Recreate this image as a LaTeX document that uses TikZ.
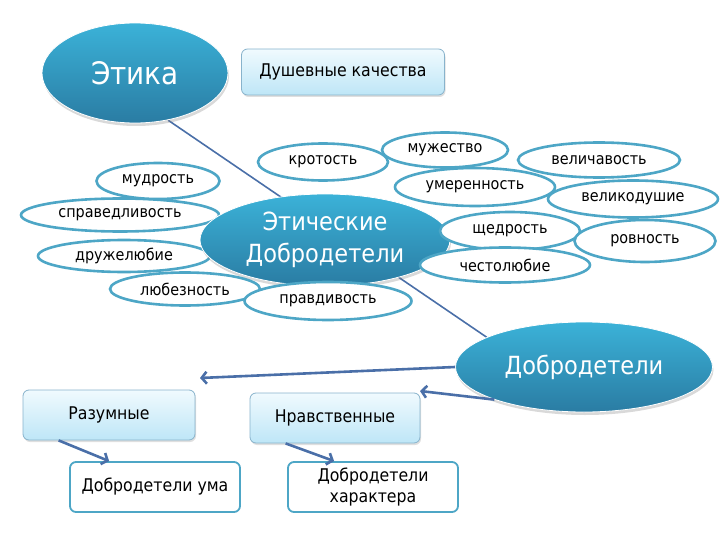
\documentclass[tikz,border=0pt]{standalone}
\usepackage{fontspec}
\setmainfont{DejaVu Sans Condensed}
\usetikzlibrary{shapes.geometric,shadows,arrows.meta,backgrounds}

\definecolor{tealtop}{HTML}{3BB2D8}
\definecolor{tealbot}{HTML}{2A7CA3}
\definecolor{rimcol}{HTML}{4DA6C6}
\definecolor{linkcol}{HTML}{4A6FA8}
\definecolor{boxtop}{HTML}{F0FAFE}
\definecolor{boxbot}{HTML}{BEE6F7}
\definecolor{boxrim}{HTML}{88B3CC}

\begin{document}
\begin{tikzpicture}[x=1pt, y=-1pt, >=stealth,
    bigoval/.style={ellipse, inner sep=0pt, top color=tealtop, bottom color=tealbot,
        draw=white, line width=0.8pt, text=white, align=center,
        drop shadow={opacity=0.3, shadow xshift=1pt, shadow yshift=-3pt}},
    virtue/.style={ellipse, inner sep=0pt, draw=rimcol, line width=2.6pt, fill=white,
        font=\fontsize{16}{18}\selectfont},
    qualbox/.style={rectangle, rounded corners=6pt, draw=boxrim, line width=0.8pt,
        top color=boxtop, bottom color=boxbot, font=\fontsize{17.5}{20}\selectfont,
        drop shadow={opacity=0.25, shadow xshift=1pt, shadow yshift=-2pt}},
    kindbox/.style={rectangle, rounded corners=6pt, draw=rimcol, line width=1.8pt,
        fill=white, align=center, font=\fontsize{17.5}{21}\selectfont,
        minimum width=170pt, minimum height=50pt},
    link/.style={draw=linkcol, line width=2.6pt, -{Straight Barb[length=5pt,width=12pt]}}]
    \useasboundingbox (0,0) rectangle (720,540);

    % Headings
    \node[bigoval, minimum width=186pt, minimum height=100pt,
          font=\fontsize{31}{36}\selectfont] (etika) at (135,73) {Этика};
    \node[qualbox, minimum width=203pt, minimum height=46pt] (dushe) at (343,72) {Душевные качества};

    % Left ring of virtues (under the centre)
    \node[virtue, minimum width=198pt, minimum height=33pt] (spra) at (120,215) {справедливость};
    \node[virtue, minimum width=172pt, minimum height=32pt] (druz) at (124,256) {дружелюбие};

    % Centre
    \node[bigoval, minimum width=250pt, minimum height=92pt,
          font=\fontsize{25}{32}\selectfont] (centr) at (325,240) {Этические\\Добродетели};

    % Virtues around the centre
    \node[virtue, minimum width=123pt, minimum height=36pt] (mudr) at (158,181) {мудрость};
    \node[virtue, minimum width=150pt, minimum height=33pt] (lyub) at (185,289) {любезность};
    \node[virtue, minimum width=167pt, minimum height=38pt] (prav) at (328,301) {правдивость};
    \node[virtue, minimum width=130pt, minimum height=37pt] (krot) at (323,162) {кротость};
    \node[virtue, minimum width=126pt, minimum height=35pt] (muzh) at (445,150) {мужество};
    \node[virtue, minimum width=160pt, minimum height=38pt] (umer) at (475,187) {умеренность};
    \node[virtue, minimum width=162pt, minimum height=35pt] (veli) at (599,160) {величавость};
    \node[virtue, minimum width=170pt, minimum height=37pt] (vedu) at (633,199) {великодушие};
    \node[virtue, minimum width=140pt, minimum height=38pt] (shch) at (510,231) {щедрость};
    \node[virtue, minimum width=141pt, minimum height=42pt] (rovn) at (645,241) {ровность};
    \node[virtue, minimum width=170pt, minimum height=35pt] (chest) at (505,265) {честолюбие};

    % Kinds of virtue
    \node[bigoval, minimum width=257pt, minimum height=90pt,
          font=\fontsize{25}{30}\selectfont] (dobr) at (584,367) {Добродетели};
    \node[qualbox, minimum width=172pt, minimum height=50pt] (razu) at (109,415) {Разумные};
    \node[qualbox, minimum width=170pt, minimum height=50pt] (nrav) at (335,418) {Нравственные};
    \node[kindbox] (uma) at (155,487) {Добродетели ума};
    \node[kindbox] (khar) at (373,487) {Добродетели\\характера};

    % Connectors
    \begin{scope}[on background layer]
        \draw[linkcol, line width=1.6pt] (etika.-55) -- (dobr.163);
    \end{scope}
    \coordinate (razhead) at (200,378);
    \coordinate (nravhead) at (420,391);
    \draw[link] (dobr.west) -- (razhead);
    \draw[link] (dobr.200) -- (nravhead);
    \draw[link] ([xshift=36pt]razu.south west) -- ([xshift=40pt]uma.north west);
    \draw[link] ([xshift=36pt]nrav.south west) -- ([xshift=47pt]khar.north west);
\end{tikzpicture}
\end{document}
